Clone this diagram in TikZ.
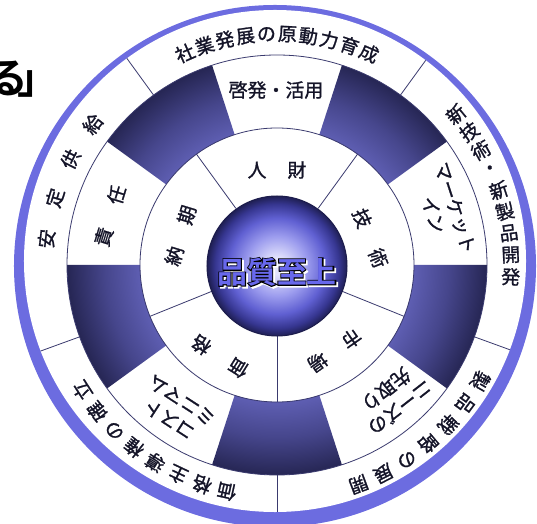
\documentclass[tikz,border=0pt]{standalone}
\usepackage{fontspec}
\setmainfont{Noto Sans CJK JP}
\newfontfamily\jpmed{Noto Sans CJK JP}[FakeBold=1.2]
\newfontfamily\jpout{Noto Sans CJK JP Bold}[FakeBold=6]
\newfontfamily\jpbold{Noto Sans CJK JP Bold}
\definecolor{lav}{RGB}{108,108,224}
\definecolor{lineblue}{RGB}{58,58,110}
\definecolor{panin}{RGB}{94,94,178}
\definecolor{panmid}{RGB}{70,70,140}
\definecolor{panout}{RGB}{38,38,84}
\definecolor{sph0}{RGB}{228,228,252}
\definecolor{sph1}{RGB}{156,156,238}
\definecolor{sph2}{RGB}{96,96,210}
\definecolor{sph3}{RGB}{54,54,144}
\definecolor{sph4}{RGB}{28,28,76}
\definecolor{qfill}{RGB}{104,104,236}
\definecolor{ink}{RGB}{20,20,40}
\pgfdeclareradialshading{ringshade}{\pgfpointorigin}{color(0bp)=(panin); color(137bp)=(panin); color(172bp)=(panmid); color(210bp)=(panout); color(214bp)=(panout)}
\pgfdeclareradialshading{sphshade}{\pgfpointorigin}{color(0bp)=(sph0); color(8bp)=(sph0); color(30bp)=(sph1); color(48bp)=(sph2); color(62bp)=(sph3); color(71bp)=(sph4)}
\tikzset{
  thinline/.style={draw=lineblue, line width=0.8bp},
  ringtxt/.style={font=\jpmed\fontsize{19}{23}\selectfont, text=ink, inner sep=0pt},
  centertxt/.style={font=\jpbold\fontsize{30}{30}\selectfont, inner sep=0pt},
  centerout/.style={font=\jpout\fontsize{30}{30}\selectfont, inner sep=0pt}
}
\begin{document}
\begin{tikzpicture}[x=1bp,y=1bp]
\useasboundingbox (-277,-259) rectangle (260,265);
% title fragment
\node[font=\jpbold\fontsize{42}{42}\selectfont, anchor=base west, inner sep=0pt, text=black] (title) at (-291,171) {る\kern-11bp」};
% outer border and disk
\fill[lav] (-2,-1) circle[radius=261bp];
\fill[white] (-2,4) circle[radius=251bp];
% outer ring dividers
\begin{scope}
  \clip (-2,4) circle[radius=251bp];
  \foreach \a in {126,54,-20,-90,200} \draw[thinline] (\a:210) -- (\a:262);
\end{scope}
% dark panels
\foreach \a in {126,54,-18,-90,198} {
  \begin{scope}
    \clip ({\a-18}:137) arc[start angle={\a-18}, end angle={\a+18}, radius=137bp]
      -- ({\a+18}:210) arc[start angle={\a+18}, end angle={\a-18}, radius=210bp] -- cycle;
    \node[inner sep=0pt] at (0,0) {\pgfuseshading{ringshade}};
  \end{scope}
}
\draw[thinline] (0,0) circle[radius=210bp];
\draw[thinline] (0,0) circle[radius=137bp];
% inner ring dividers
\foreach \a in {126,54,-22,-90,202} \draw[thinline] (\a:70) -- (\a:137);
% sphere
\begin{scope}
  \clip (0,-1) circle[radius=70bp];
  \node[inner sep=0pt] at (0,-1) {\pgfuseshading{sphshade}};
\end{scope}
\draw[draw=sph4, line width=1bp] (0,-1) circle[radius=70bp];
% center text with outline and shadow
\node[centerout, text=white] (qs) at (1.8,-8.8) {品質至上};
\node[centerout, text=black] (qo) at (0,-7) {品質至上};
\node[centertxt, text=qfill] (q) at (0,-7) {品質至上};
% outer ring texts
\foreach \ch [count=\i from 0] in {社,業,発,展,の,原,動,力,育,成} {
  \pgfmathsetmacro\ang{113.5-\i*5.22}
  \pgfmathsetmacro\rot{\ang-90}
  \node[ringtxt, rotate=\rot] (oa\i) at (\ang:231) {\ch};
}
\foreach \ch [count=\i from 0] in {新,技,術,・,新,製,品,開,発} {
  \pgfmathsetmacro\ang{40.1-\i*5.375}
  \node[ringtxt, rotate=\ang] (ob\i) at (\ang:234) {\ch};
}
\foreach \ch [count=\i from 0] in {製,品,戦,略,の,展,開} {
  \pgfmathsetmacro\ang{-29.7-\i*6.65}
  \pgfmathsetmacro\rot{\ang-90}
  \node[ringtxt, rotate=\rot] (oc\i) at (\ang:234) {\ch};
}
\foreach \ch [count=\i from 0] in {価,格,主,導,権,の,確,立} {
  \pgfmathsetmacro\ang{-102.5-\i*6.39}
  \pgfmathsetmacro\rot{\ang-90}
  \node[ringtxt, rotate=\rot] (od\i) at (\ang:232) {\ch};
}
\foreach \ch [count=\i from 0] in {安,定,供,給} {
  \pgfmathsetmacro\ang{173.5-\i*10.3}
  \pgfmathsetmacro\rot{\ang-90}
  \node[ringtxt, rotate=\rot] (oe\i) at (\ang:232) {\ch};
}
% second ring texts
\node[ringtxt] (ka) at (-1,175) {啓発・活用};
\node[ringtxt, rotate=-72, align=center] (kb) at (17.8:176) {マーケット\\イン};
\node[ringtxt, rotate=-142, align=center] (kc) at (-49:177) {ニーズの\\先取り};
\node[ringtxt, rotate=147, align=center] (kd) at (-125:177) {コスト\\ミニマム};
\node[ringtxt, rotate=73] (ke) at (163.6:174) {責\hspace{25bp}任};
% inner ring texts
\node[ringtxt] (ia) at (90:95) {人\hspace{21bp}財};
\node[ringtxt, rotate=-68] (ib) at (16:97) {技\hspace{24bp}術};
\node[ringtxt, rotate=-145] (ic) at (-56:103) {市\hspace{22bp}場};
\node[ringtxt, rotate=148] (id) at (-122:108) {価\hspace{25bp}格};
\node[ringtxt, rotate=73] (ie) at (163:101) {納\hspace{24bp}期};
\end{tikzpicture}
\end{document}
